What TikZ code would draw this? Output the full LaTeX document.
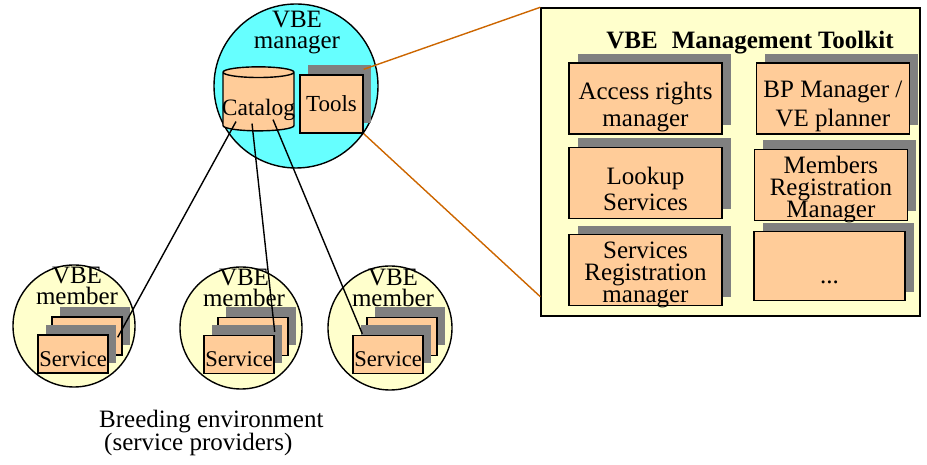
\documentclass[tikz,border=0pt]{standalone}
\usepackage{fontspec}
\setmainfont{Liberation Serif}
\usetikzlibrary{calc,positioning,shapes.geometric,shadows}
\definecolor{mgrcyan}{HTML}{66FFFF}
\definecolor{paleyellow}{HTML}{FFFFCC}
\definecolor{peach}{HTML}{FFCC99}
\definecolor{shadowgray}{HTML}{808080}
\definecolor{linkorange}{HTML}{CC6600}
\tikzset{
	vbe/.style={circle,draw,line width=1.4pt,fill=paleyellow,inner sep=0pt},
	tkbox/.style 2 args={draw,line width=1.4pt,fill=peach,minimum width=153pt,minimum height=71pt,
		general shadow={fill=shadowgray,shadow xshift=9pt,shadow yshift=9pt},
		label={[align=center,yshift=#2]center:{#1}}},
	svc/.style={draw,line width=1.4pt,fill=peach,minimum width=70pt,minimum height=38pt,inner sep=0pt,
		general shadow={fill=shadowgray,shadow xshift=8pt,shadow yshift=10pt}},
	svclabel/.style={label={[yshift=-5pt,font=\fontsize{22.5}{22}\selectfont]center:Service}},
	link/.style={line width=1.4pt},
	zoomlink/.style={line width=1.4pt,linkorange}
}
\begin{document}
\begin{tikzpicture}[x=1pt,y=1pt,font=\fontsize{25}{22}\selectfont]
	\useasboundingbox (0,0) rectangle (927,465);
	\node[vbe,fill=mgrcyan,minimum size=164pt] (mgr) at (296,379) {};
	\node[align=center] (mgrname) at (297,432) {VBE\\[-1pt]manager};
	\node[cylinder,shape border rotate=90,draw,line width=1.4pt,fill=peach,minimum width=71pt,minimum height=64pt,aspect=1.6] (cat) at (258.5,362) {};
	\node[font=\fontsize{23.5}{23}\selectfont] (catname) at ($(cat.south)+(0,22)$) {Catalog};
	\node[draw,line width=1.4pt,fill=peach,minimum width=63pt,minimum height=58pt,inner sep=0pt,
		general shadow={fill=shadowgray,shadow xshift=8pt,shadow yshift=10pt},
		font=\fontsize{23}{23}\selectfont] (tools) at (331.5,361) {Tools};
	\node[draw,line width=1.4pt,fill=paleyellow,minimum width=379pt,minimum height=308pt] (kit) at (730.5,303) {};
	\node[font=\fontsize{25}{25}\selectfont\bfseries] (kittitle) at (750,422) {VBE\hspace{14pt}Management\hspace{6pt}Toolkit};
	\node[tkbox={Access rights\\[5pt]manager}{-9pt}] (acc) at (645.5,366.5) {};
	\node[tkbox={Lookup\\[4pt]Services}{-6pt},below=12pt of acc] (look) {};
	\node[tkbox={Services\\Registration\\manager}{-5pt},below=15pt of look] (sreg) {};
	\node[tkbox={BP Manager /\\[5pt]VE planner}{-8pt},right=33pt of acc] (bp) {};
	\node[tkbox={Members\\Registration\\Manager}{-5pt},below=14pt of bp,xshift=-2pt] (memb) {};
	\node[tkbox={...}{-16pt},below=10pt of memb,xshift=-1.5pt,minimum width=151pt,minimum height=69pt] (more) {};
	\node[vbe,minimum size=122pt] (m1) at (74,139) {};
	\node[align=center] (m1name) at ($(m1)+(3,40)$) {VBE\\[-1pt]member};
	\node[svc] (b1) at ($(m1)+(13,-10)$) {};
	\node[svc,svclabel] (s1) at ($(m1)+(-1,-28)$) {};
	\node[vbe,minimum size=122pt] (m2) at (241,137) {};
	\node[align=center] (m2name) at ($(m2)+(3,40)$) {VBE\\[-1pt]member};
	\node[svc] (b2) at ($(m2)+(12,-8.5)$) {};
	\node[svc,svclabel] (s2) at ($(m2)+(-2,-26.5)$) {};
	\node[vbe,minimum size=124pt] (m3) at (390,137) {};
	\node[align=center] (m3name) at ($(m3)+(3,40)$) {VBE\\[-1pt]member};
	\node[svc] (b3) at ($(m3)+(12,-8.5)$) {};
	\node[svc,svclabel] (s3) at ($(m3)+(-2,-26.5)$) {};
	\node[align=left,anchor=west,inner sep=0pt] (caption) at (99,32) {Breeding environment\\[-1pt]\hspace{5pt}(service providers)};
	\draw[link] ($(cat.south)+(-22.5,10)$) -- ($(s1.north east)+(9,-3)$);
	\draw[link] ($(cat.south)+(-6.5,8)$) -- ($(s2.north east)+(0,3)$);
	\draw[link] ($(cat.south)+(14.5,12)$) -- ($(s3.north west)+(10,1)$);
	\draw[zoomlink] ($(tools.north east)+(0,5)$) -- (kit.north west);
	\draw[zoomlink] (tools.south east) -- ($(kit.south west)+(0,20)$);
\end{tikzpicture}
\end{document}
